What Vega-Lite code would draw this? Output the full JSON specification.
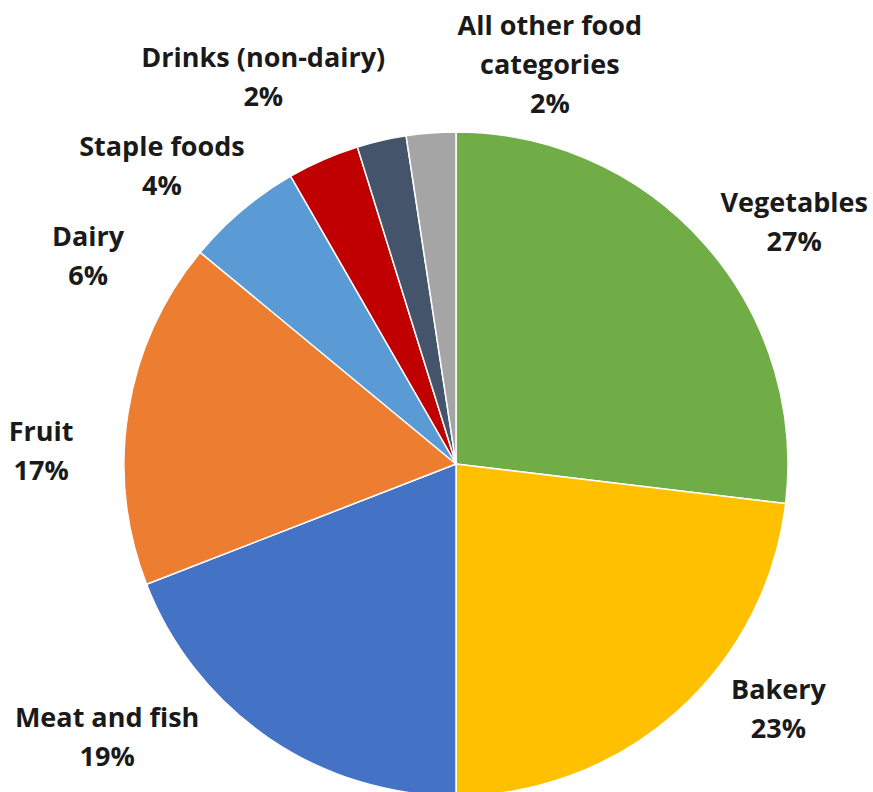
{
  "$schema": "https://vega.github.io/schema/vega-lite/v6.json",
  "autosize": {"type": "none"},
  "width": 834,
  "height": 656,
  "padding": {"left": 39, "top": 136, "right": 0, "bottom": 0},
  "background": "white",
  "config": {"view": {"stroke": null}},
  "data": {
    "values": [
      {"category": "Vegetables", "value": 26.9, "order": 1, "label": "Vegetables\n27%"},
      {"category": "Bakery", "value": 23.1, "order": 2, "label": "Bakery\n23%"},
      {"category": "Meat and fish", "value": 19.1, "order": 3, "label": "Meat and fish\n19%"},
      {"category": "Fruit", "value": 16.9, "order": 4, "label": "Fruit\n17%"},
      {"category": "Dairy", "value": 5.7, "order": 5, "label": "Dairy\n6%"},
      {"category": "Staple foods", "value": 3.5, "order": 6, "label": "Staple foods\n4%"},
      {"category": "Drinks (non-dairy)", "value": 2.4, "order": 7, "label": "Drinks (non-dairy)\n2%"},
      {"category": "All other food categories", "value": 2.4, "order": 8, "label": "All other food\ncategories\n2%"}
    ]
  },
  "encoding": {
    "theta": {"field": "value", "type": "quantitative", "stack": true, "scale": {"domain": [0, 100]}},
    "order": {"field": "order", "type": "quantitative", "sort": "ascending"}
  },
  "layer": [
    {
      "mark": {"type": "arc", "outerRadius": 332, "stroke": "white", "strokeWidth": 1.5},
      "encoding": {
        "color": {
          "field": "category",
          "type": "nominal",
          "legend": null,
          "scale": {
            "domain": ["Vegetables", "Bakery", "Meat and fish", "Fruit", "Dairy", "Staple foods", "Drinks (non-dairy)", "All other food categories"],
            "range": ["#70AD47", "#FFC000", "#4472C4", "#ED7D31", "#5B9BD5", "#C00000", "#44546A", "#A5A5A5"]
          }
        }
      }
    },
    {
      "mark": {"type": "text", "radius": 400, "dx": 39, "dy": 5, "font": "Open Sans", "fontWeight": "bold", "fontSize": 27, "lineHeight": 39, "lineBreak": "\n", "color": "#1a1a1a", "baseline": "middle", "align": "center"},
      "encoding": {"text": {"condition": {"test": "datum.category === 'Vegetables'", "field": "label"}, "value": ""}}
    },
    {
      "mark": {"type": "text", "radius": 400, "dx": 57, "dy": -72, "font": "Open Sans", "fontWeight": "bold", "fontSize": 27, "lineHeight": 39, "lineBreak": "\n", "color": "#1a1a1a", "baseline": "middle", "align": "center"},
      "encoding": {"text": {"condition": {"test": "datum.category === 'Bakery'", "field": "label"}, "value": ""}}
    },
    {
      "mark": {"type": "text", "radius": 400, "dx": -123, "dy": -75, "font": "Open Sans", "fontWeight": "bold", "fontSize": 27, "lineHeight": 39, "lineBreak": "\n", "color": "#1a1a1a", "baseline": "middle", "align": "center"},
      "encoding": {"text": {"condition": {"test": "datum.category === 'Meat and fish'", "field": "label"}, "value": ""}}
    },
    {
      "mark": {"type": "text", "radius": 400, "dx": -20, "dy": 33, "font": "Open Sans", "fontWeight": "bold", "fontSize": 27, "lineHeight": 39, "lineBreak": "\n", "color": "#1a1a1a", "baseline": "middle", "align": "center"},
      "encoding": {"text": {"condition": {"test": "datum.category === 'Fruit'", "field": "label"}, "value": ""}}
    },
    {
      "mark": {"type": "text", "radius": 400, "dx": -110, "dy": 80, "font": "Open Sans", "fontWeight": "bold", "fontSize": 27, "lineHeight": 39, "lineBreak": "\n", "color": "#1a1a1a", "baseline": "middle", "align": "center"},
      "encoding": {"text": {"condition": {"test": "datum.category === 'Dairy'", "field": "label"}, "value": ""}}
    },
    {
      "mark": {"type": "text", "radius": 400, "dx": -134, "dy": 51, "font": "Open Sans", "fontWeight": "bold", "fontSize": 27, "lineHeight": 39, "lineBreak": "\n", "color": "#1a1a1a", "baseline": "middle", "align": "center"},
      "encoding": {"text": {"condition": {"test": "datum.category === 'Staple foods'", "field": "label"}, "value": ""}}
    },
    {
      "mark": {"type": "text", "radius": 400, "dx": -103, "dy": -15, "font": "Open Sans", "fontWeight": "bold", "fontSize": 27, "lineHeight": 39, "lineBreak": "\n", "color": "#1a1a1a", "baseline": "middle", "align": "center"},
      "encoding": {"text": {"condition": {"test": "datum.category === 'Drinks (non-dairy)'", "field": "label"}, "value": ""}}
    },
    {
      "mark": {"type": "text", "radius": 400, "dx": 124, "dy": -38, "font": "Open Sans", "fontWeight": "bold", "fontSize": 27, "lineHeight": 39, "lineBreak": "\n", "color": "#1a1a1a", "baseline": "middle", "align": "center"},
      "encoding": {"text": {"condition": {"test": "datum.category === 'All other food categories'", "field": "label"}, "value": ""}}
    }
  ]
}
